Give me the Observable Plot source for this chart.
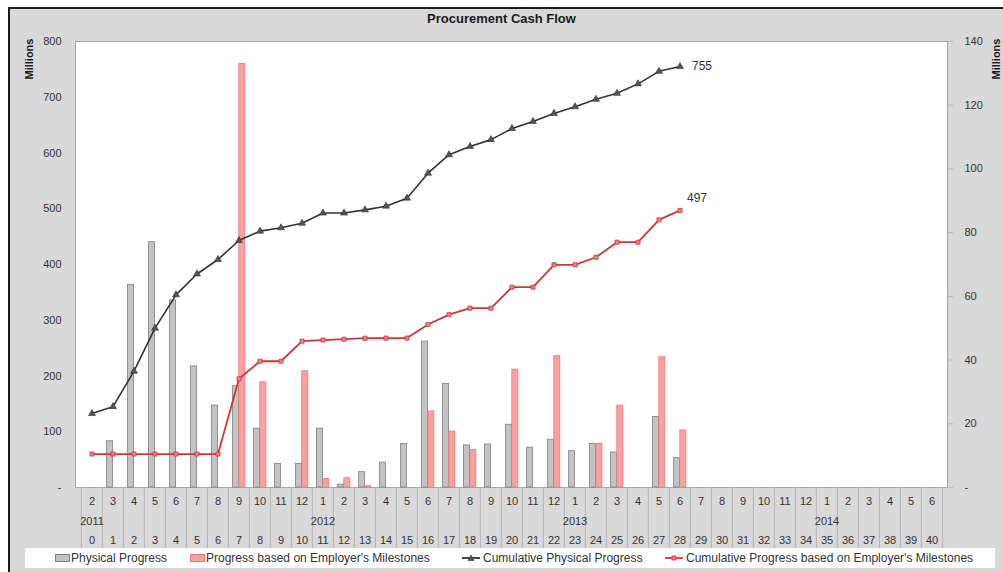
<!DOCTYPE html>
<html>
<head>
<meta charset="utf-8">
<script src="https://cdn.jsdelivr.net/npm/d3@7"></script>
<script src="https://cdn.jsdelivr.net/npm/@observablehq/plot@0.6"></script>
<style>
  html, body { margin: 0; padding: 0; background: #ffffff; }
  #wrap { position: relative; width: 1003px; height: 572px; overflow: hidden; font-family: "Liberation Sans", Arial, sans-serif; }
  #box { position: absolute; left: 8px; top: 7px; width: 1010px; height: 580px; background: #d9d9d9; border-left: 2px solid #1a1a1a; border-top: 2px solid #1a1a1a; }
  #title { position: absolute; left: 0; top: 11px; width: 1003px; text-align: center; font-weight: bold; font-size: 13px; color: #1a1a1a; }
  #chart { position: absolute; left: 0; top: 0; }
  #legend { position: absolute; left: 25px; top: 548px; width: 970px; height: 20px; background: #ffffff; font-size: 12px; color: #333; }
  .li { position: absolute; top: 2px; display: flex; align-items: center; height: 16px; white-space: nowrap; }
  .sw { display: inline-block; width: 15px; height: 8px; margin-right: 1px; }
  .ls { display: inline-block; width: 18px; height: 10px; margin-right: 3px; }
  .ylab { position: absolute; font-weight: bold; font-size: 11px; color: #1a1a1a; transform: rotate(-90deg); transform-origin: center; }
</style>
</head>
<body>
<div id="wrap">
  <div id="box"></div>
  <div id="title">Procurement Cash Flow</div>
  <div id="chart"></div>
  <div class="ylab" style="left:4px; top:53px; width:50px; text-align:center;">Millions</div>
  <div class="ylab" style="left:971px; top:53px; width:50px; text-align:center;">Millions</div>
  <div id="legend"></div>
</div>
<script>
// ---- data ----
const months = [2,3,4,5,6,7,8,9,10,11,12,1,2,3,4,5,6,7,8,9,10,11,12,1,2,3,4,5,6,7,8,9,10,11,12,1,2,3,4,5,6];
const yearLabels = {0: "2011", 11: "2012", 23: "2013", 35: "2014"};
const periodIndex = d3.range(41);

// monthly values (right axis, millions)
const physicalProgress = [null,14.5,63.6,77,58.7,38,25.7,31.8,18.5,7.4,7.4,18.5,0.9,4.8,7.8,13.7,45.8,32.5,13.2,13.5,19.7,12.5,15,11.4,13.7,11,null,22.1,9.2];
const milestoneProgress = [null,null,null,null,null,null,null,133,33,null,36.5,2.7,2.9,0.4,null,null,23.9,17.6,11.8,null,37,null,41.2,null,13.7,25.7,null,40.9,17.9];

// cumulative values (left axis, millions)
const cumulativePhysical = [132.7,145,208.6,285.8,345.6,383,409,443,459.8,465.8,474,492.3,492.3,498,504.6,519,563.8,597,611.7,624,644,656.5,671,683,696.5,707,724,746.5,755];
const cumulativeMilestones = [60,60,60,60,60,60,60,195,226.5,226.5,262.5,264.5,266,267.8,268,268,292.4,310,321.7,321.7,359.3,359.3,399.5,399.5,413,440,440,480,497];

const leftTicks = [0,100,200,300,400,500,600,700,800];
const rightTicks = [0,20,40,60,80,100,120,140];
const rightMax = 140, leftMax = 800;
const k = leftMax / rightMax;

const physData = physicalProgress.map((v,i)=>({i, v})).filter(d=>d.v != null);
const mileData = milestoneProgress.map((v,i)=>({i, v})).filter(d=>d.v != null);
const cumPhys = cumulativePhysical.map((v,i)=>({i, v}));
const cumMile = cumulativeMilestones.map((v,i)=>({i, v}));
const lastPhys = cumPhys[cumPhys.length-1];
const lastMile = cumMile[cumMile.length-1];

const W = 1003, H = 548, mL = 75, mR = 56, mT = 41, mB = 61;
const bw = (W - mL - mR) / periodIndex.length;
const fmtLeft = v => v === 0 ? "-" : String(v);

const chart = Plot.plot({
  width: W, height: H,
  marginLeft: mL, marginRight: mR, marginTop: mT, marginBottom: mB,
  style: {background: "transparent", fontFamily: "Liberation Sans, Arial, sans-serif", fontSize: "11px", color: "#333"},
  x: {type: "band", domain: periodIndex, padding: 0, axis: null, label: null},
  y: {domain: [0, leftMax], axis: null, label: null},
  marks: [
    Plot.frame({fill: "white", stroke: "#a6a6a6"}),
    // left axis
    Plot.axisY({anchor: "left", label: null, ticks: leftTicks, tickFormat: fmtLeft, tickSize: 0, tickPadding: 14, fontSize: 11, fill: "#333"}),
    // right axis (bars scale)
    Plot.axisY({anchor: "right", label: null, ticks: rightTicks.map(v => v * k), tickFormat: v => { const r = Math.round(v / k); return r === 0 ? "-" : String(r); }, tickSize: 5, tickPadding: 12, stroke: "#bbb", fontSize: 11, fill: "#333"}),
    // category separators
    Plot.axisX({label: null, ticks: periodIndex, tickSize: mB, tickFormat: () => "", dx: -bw/2, stroke: "#b3b3b3"}),
    Plot.axisX({label: null, ticks: [40], tickSize: mB, tickFormat: () => "", dx: bw/2, stroke: "#b3b3b3"}),
    // category labels (three rows)
    Plot.axisX({label: null, ticks: periodIndex, tickSize: 0, tickPadding: 10, tickFormat: i => String(months[i]), fontSize: 11, fill: "#333"}),
    Plot.axisX({label: null, ticks: periodIndex, tickSize: 0, tickPadding: 30, tickFormat: i => yearLabels[i] || "", fontSize: 11, fill: "#333"}),
    Plot.axisX({label: null, ticks: periodIndex, tickSize: 0, tickPadding: 49, tickFormat: i => String(i), fontSize: 11, fill: "#333"}),
    // bars (right axis)
    Plot.barY(physData, {x: "i", y: d => d.v * k, fill: "#c3c3c3", stroke: "#808080", strokeWidth: 0.8, insetLeft: 4.5, insetRight: 10.4}),
    Plot.barY(mileData, {x: "i", y: d => d.v * k, fill: "#ffa0a0", stroke: "#e47a7a", strokeWidth: 0.8, insetLeft: 10.8, insetRight: 4.2}),
    // cumulative lines (left axis)
    Plot.line(cumPhys, {x: "i", y: "v", stroke: "#333333", strokeWidth: 1.6}),
    Plot.dot(cumPhys, {x: "i", y: "v", symbol: "triangle", r: 2.6, fill: "#555", stroke: "#333", strokeWidth: 0.6}),
    Plot.line(cumMile, {x: "i", y: "v", stroke: "#c8383c", strokeWidth: 1.8}),
    Plot.dot(cumMile, {x: "i", y: "v", symbol: "square", r: 2.3, fill: "#f08080", stroke: "#c8383c", strokeWidth: 0.8}),
    // end labels
    Plot.text([lastPhys], {x: "i", y: "v", text: d => String(d.v), dx: 12, textAnchor: "start", fontSize: 12, fill: "#333"}),
    Plot.text([lastMile], {x: "i", y: "v", text: d => String(d.v), dx: 7, dy: -12, textAnchor: "start", fontSize: 12, fill: "#333"})
  ]
});
document.getElementById("chart").appendChild(chart);

// legend
const legendItems = [
  {label: "Physical Progress", x: 30, kind: "bar", fill: "#c3c3c3", stroke: "#808080"},
  {label: "Progress based on Employer's Milestones", x: 165, kind: "bar", fill: "#ffa0a0", stroke: "#e47a7a"},
  {label: "Cumulative Physical Progress", x: 437, kind: "line", stroke: "#333333", sym: "tri"},
  {label: "Cumulative Progress based on Employer's Milestones", x: 640, kind: "line", stroke: "#c8383c", sym: "sq"}
];
const legend = document.getElementById("legend");
for (const it of legendItems) {
  const el = document.createElement("div");
  el.className = "li";
  el.style.left = it.x + "px";
  let sym;
  if (it.kind === "bar") {
    sym = `<span class="sw" style="background:${it.fill};border:1px solid ${it.stroke};box-sizing:border-box"></span>`;
  } else {
    const mk = it.sym === "tri"
      ? `<path d="M9,2 L12,7.5 L6,7.5 Z" fill="#555" stroke="#333" stroke-width="0.6"/>`
      : `<rect x="7" y="3" width="4" height="4" fill="#f08080" stroke="${it.stroke}" stroke-width="0.8"/>`;
    sym = `<svg class="ls" viewBox="0 0 18 10"><line x1="0" y1="5" x2="18" y2="5" stroke="${it.stroke}" stroke-width="1.8"/>${mk}</svg>`;
  }
  el.innerHTML = sym + `<span>${it.label}</span>`;
  legend.appendChild(el);
}
</script>
</body>
</html>
